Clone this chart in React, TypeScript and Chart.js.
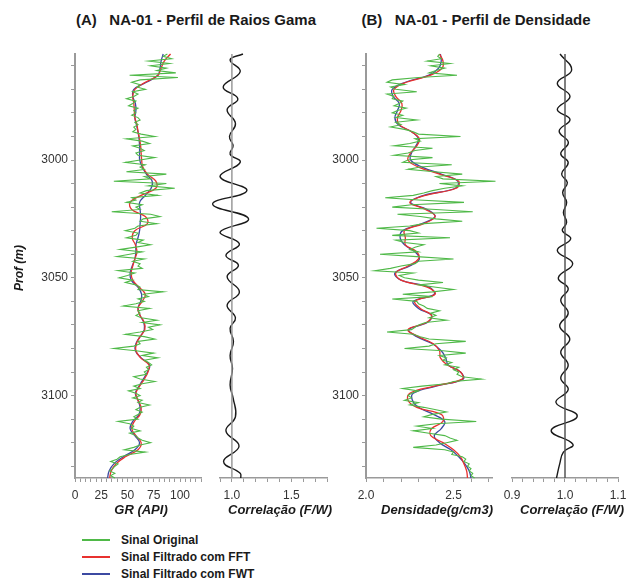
import React, { useEffect, useRef } from 'react';
import { Chart, registerables } from 'chart.js';

Chart.register(...registerables);

const FONT = '"Liberation Sans", Arial, Helvetica, sans-serif';

// ---------- depth index (m) ----------
const depthFine: number[] = Array.from({ length: 181 }, (_, i) => 2955 + i); // 1 m step
const depthSmooth: number[] = Array.from({ length: 61 }, (_, i) => 2955 + 3 * i); // 3 m step
const depthTicks: number[] = Array.from({ length: 18 }, (_, i) => 2960 + 10 * i);
const depthLabels: number[] = [3000, 3050, 3100];

// ---------- (A) Gamma Ray (API) ----------
const grOriginal: number[] = [
  88, 84, 92, 70, 90, 72, 87, 78, 96, 52,
  98, 62, 54, 62, 59, 67, 55, 60, 56, 49,
  58, 55, 51, 60, 56, 58, 54, 60, 62, 57,
  60, 56, 58, 55, 63, 76, 49, 64, 71, 55,
  62, 66, 58, 60, 76, 62, 48, 67, 62, 66,
  49, 87, 66, 72, 37, 87, 70, 95, 68, 62,
  79, 54, 58, 49, 64, 58, 62, 35, 72, 81,
  65, 62, 78, 60, 57, 48, 60, 58, 49, 65,
  60, 72, 58, 43, 64, 52, 40, 66, 55, 62,
  60, 64, 41, 57, 50, 42, 55, 48, 58, 62,
  60, 84, 65, 70, 60, 66, 58, 46, 71, 60,
  62, 58, 63, 78, 64, 81, 70, 74, 62, 48,
  66, 76, 60, 62, 56, 37, 58, 75, 64, 79,
  66, 70, 73, 68, 70, 66, 68, 56, 62, 76,
  64, 56, 62, 51, 58, 62, 55, 64, 60, 71,
  62, 58, 64, 60, 56, 60, 41, 52, 56, 54,
  62, 52, 58, 60, 64, 72, 62, 56, 47, 67,
  52, 43, 40, 34, 41, 38, 36, 33, 38, 34,
  38,
];
const grFFT: number[] = [
  91, 85, 82, 79, 67, 57, 55, 56, 56.5, 57,
  59, 60, 61.5, 62.5, 63, 63.5, 64.5, 69, 77, 77,
  63, 52.5, 54, 67, 69, 57, 54.5, 57.5, 59, 57,
  55, 53.5, 55, 61, 67, 64, 60, 62, 66, 66.5,
  62, 58.5, 58, 62.5, 70.5, 69.5, 66, 61.5, 58, 60,
  63, 62, 56.5, 54, 58, 63, 60, 48, 39, 34.5,
  33,
];
const grFWT: number[] = [
  84, 82, 81, 79, 68, 56, 55, 57.5, 58, 57,
  58.5, 60, 61, 61.5, 61.5, 61.6, 64, 68, 73.5, 72.5,
  67, 61.5, 62, 62.5, 62, 61.5, 60, 58, 58, 57,
  54.5, 52.5, 53.5, 60, 63.5, 62.5, 60, 62, 65.5, 66,
  62, 58, 57.5, 63, 71, 69, 65, 61, 57.5, 60,
  62, 61, 55, 52.5, 57, 61.5, 57, 46, 37, 32.5,
  31,
];
const corrGrDepth: number[] = [
  2955, 2957.5, 2962.5, 2969, 2974, 2978.6, 2984.5, 2990, 2994, 2997.5,
  3001, 3007, 3013, 3018.7, 3025, 3030.7, 3035.6, 3040.5, 3044.7, 3049.6,
  3056, 3061.6, 3067, 3071.5, 3077, 3083, 3088.5, 3095.5, 3101, 3109,
  3115, 3121.5, 3128, 3133, 3135,
];
const corrGr: number[] = [
  1.093, 0.985, 1.07, 0.927, 1.05, 0.96, 1.03, 0.98, 1.01, 0.985,
  1.07, 0.9, 1.126, 0.838, 1.14, 0.9, 1.063, 0.95, 1.055, 0.96,
  1.063, 0.96, 1.03, 0.985, 1.013, 0.985, 1.005, 0.985, 1.01, 1.03,
  0.95, 1.06, 0.93, 1.07, 1.075,
];

// ---------- (B) Density (g/cm3) ----------
const densOriginal: number[] = [
  2.42, 2.41, 2.43, 2.35, 2.48, 2.37, 2.45, 2.40, 2.36, 2.52,
  2.30, 2.15, 2.12, 2.22, 2.14, 2.17, 2.29, 2.12, 2.16, 2.15,
  2.21, 2.19, 2.16, 2.23, 2.18, 2.15, 2.21, 2.17, 2.29, 2.17,
  2.20, 2.14, 2.22, 2.27, 2.30, 2.54, 2.28, 2.31, 2.25, 2.16,
  2.38, 2.28, 2.24, 2.16, 2.38, 2.24, 2.21, 2.49, 2.31, 2.24,
  2.39, 2.55, 2.40, 2.44, 2.74, 2.42, 2.55, 2.45, 2.38, 2.33,
  2.27, 2.11, 2.30, 2.56, 2.26, 2.15, 2.40, 2.61, 2.18, 2.31,
  2.40, 2.55, 2.33, 2.25, 2.06, 2.25, 2.30, 2.15, 2.48, 2.17,
  2.22, 2.33, 2.28, 2.25, 2.30, 2.08, 2.29, 2.50, 2.30, 2.28,
  2.20, 2.14, 2.05, 2.27, 2.19, 2.22, 2.30, 2.44, 2.30, 2.40,
  2.50, 2.38, 2.21, 2.38, 2.15, 2.29, 2.30, 2.33, 2.35, 2.42,
  2.37, 2.40, 2.36, 2.46, 2.34, 2.30, 2.28, 2.26, 2.12, 2.27,
  2.31, 2.36, 2.57, 2.40, 2.36, 2.22, 2.44, 2.57, 2.42, 2.46,
  2.44, 2.49, 2.45, 2.53, 2.50, 2.53, 2.52, 2.55, 2.66, 2.50,
  2.46, 2.32, 2.21, 2.30, 2.26, 2.24, 2.26, 2.22, 2.30, 2.25,
  2.33, 2.40, 2.46, 2.38, 2.33, 2.43, 2.63, 2.40, 2.29, 2.38,
  2.27, 2.36, 2.45, 2.48, 2.52, 2.46, 2.40, 2.27, 2.45, 2.50,
  2.49, 2.55, 2.57, 2.56, 2.59, 2.58, 2.60, 2.59, 2.61, 2.60,
  2.62,
];
const densFFT: number[] = [
  2.42, 2.44, 2.435, 2.37, 2.23, 2.16, 2.17, 2.205, 2.2, 2.18,
  2.19, 2.26, 2.305, 2.29, 2.255, 2.24, 2.3, 2.42, 2.53, 2.515,
  2.34, 2.25, 2.34, 2.395, 2.33, 2.22, 2.225, 2.225, 2.29, 2.3,
  2.24, 2.17, 2.2, 2.35, 2.395, 2.28, 2.31, 2.375, 2.345, 2.24,
  2.3, 2.385, 2.42, 2.425, 2.465, 2.54, 2.55, 2.39, 2.25, 2.24,
  2.29, 2.43, 2.44, 2.375, 2.37, 2.44, 2.5, 2.54, 2.56, 2.575,
  2.58,
];
const densFWT: number[] = [
  2.425, 2.43, 2.415, 2.36, 2.225, 2.15, 2.155, 2.19, 2.18, 2.165,
  2.185, 2.26, 2.3, 2.285, 2.26, 2.255, 2.32, 2.43, 2.525, 2.51,
  2.33, 2.255, 2.35, 2.395, 2.32, 2.21, 2.195, 2.22, 2.28, 2.305,
  2.25, 2.165, 2.2, 2.36, 2.39, 2.27, 2.3, 2.375, 2.35, 2.245,
  2.29, 2.38, 2.43, 2.455, 2.47, 2.54, 2.555, 2.4, 2.27, 2.265,
  2.3, 2.385, 2.45, 2.43, 2.39, 2.42, 2.485, 2.53, 2.565, 2.59,
  2.6,
];
const corrDensDepth: number[] = [
  2955, 2961.8, 2967.4, 2973, 2978.6, 2982.8, 2987.7, 2992.6, 2997.3, 3001.1,
  3006, 3009.6, 3013.8, 3018, 3022.3, 3026.5, 3030, 3033.5, 3038.4, 3044,
  3050, 3054.6, 3059.5, 3065, 3070.5, 3076, 3081.5, 3087, 3092.6, 3097.5,
  3103, 3108.8, 3114.8, 3120.7, 3124, 3129, 3135,
];
const corrDens: number[] = [
  0.9906, 1.0126, 0.9855, 1.0094, 0.9855, 1.0094, 0.989, 1.0063, 0.992, 1.006,
  0.9937, 1.0044, 0.9956, 1.0031, 0.997, 1.003, 0.995, 1.0107, 0.9855, 1.0145,
  0.9874, 1.006, 0.992, 1.006, 0.99, 1.009, 0.992, 1.006, 0.992, 1.006,
  0.983, 1.023, 0.974, 1.015, 0.997, 0.99, 0.984,
];

// ---------- axis ticks ----------
const grTicks: number[] = Array.from({ length: 25 }, (_, i) => i * 5);
const grTickLabels: number[] = [0, 25, 50, 75, 100];
const corrGrTicks: number[] = Array.from({ length: 10 }, (_, i) => 0.9 + i * 0.1);
const corrGrTickLabels: number[] = [1.0, 1.5];
const densTicks: number[] = Array.from({ length: 8 }, (_, i) => 2.0 + i * 0.1);
const densTickLabels: number[] = [2.0, 2.5];
const corrDensTicks: number[] = Array.from({ length: 11 }, (_, i) => 0.9 + i * 0.02);
const corrDensTickLabels: number[] = [0.9, 1.0, 1.1];

const GREEN = '#4fb948';
const RED = '#e8312f';
const BLUE = '#3c4aa2';
const BLACK = '#1a1a1a';
const AXIS = '#9a9a9a';

const pts = (xs: number[], ys: number[]) => xs.map((x, i) => ({ x, y: ys[i] }));

type Spec = {
  left: number;
  width: number;
  padLeft: number;
  padRight: number;
  yWidth: number | null;
  xMin: number;
  xMax: number;
  xTicks: number[];
  xLabels: number[];
  decimals: number;
  datasets: any[];
};

const CANVAS_TOP = 40;
const CANVAS_H = 480;

function line(data: { x: number; y: number }[], color: string, width: number, tension: number) {
  return {
    type: 'scatter',
    data,
    showLine: true,
    borderColor: color,
    backgroundColor: color,
    borderWidth: width,
    pointRadius: 0,
    pointHoverRadius: 0,
    tension,
    clip: false,
  };
}

function vline(x: number, color: string) {
  return line([{ x, y: 2955 }, { x, y: 3135 }], color, 1.5, 0);
}

function Panel({ spec }: { spec: Spec }) {
  const ref = useRef<HTMLCanvasElement | null>(null);
  useEffect(() => {
    if (!ref.current) return;
    const tickFont = { family: FONT, size: 12 };
    const chart = new Chart(ref.current, {
      type: 'scatter',
      data: { datasets: spec.datasets },
      options: {
        animation: false,
        responsive: false,
        events: [],
        layout: { padding: { top: 14, left: spec.padLeft, right: spec.padRight, bottom: 0 } },
        plugins: { legend: { display: false }, tooltip: { enabled: false }, title: { display: false } },
        scales: {
          x: {
            type: 'linear',
            position: 'bottom',
            min: spec.xMin,
            max: spec.xMax,
            afterBuildTicks: (s: any) => {
              s.ticks = spec.xTicks.map((v) => ({ value: v }));
            },
            afterFit: (s: any) => {
              s.height = 42;
            },
            ticks: {
              autoSkip: false,
              maxRotation: 0,
              padding: 6,
              color: '#333',
              font: tickFont,
              callback: (v: any) => {
                const n = Number(v);
                const hit = spec.xLabels.find((l) => Math.abs(l - n) < 1e-6);
                return hit === undefined ? '' : hit.toFixed(spec.decimals);
              },
            },
            grid: { drawOnChartArea: false, drawTicks: true, tickLength: 4, color: AXIS, lineWidth: 1 },
            border: { display: true, color: AXIS, width: 1.5 },
          },
          y: {
            type: 'linear',
            reverse: true,
            min: 2955,
            max: 3135,
            display: spec.yWidth !== null,
            afterBuildTicks: (s: any) => {
              s.ticks = depthTicks.map((v) => ({ value: v }));
            },
            afterFit: (s: any) => {
              if (spec.yWidth !== null) s.width = spec.yWidth;
            },
            ticks: {
              autoSkip: false,
              padding: 3,
              color: '#333',
              font: tickFont,
              callback: (v: any) => (depthLabels.includes(Number(v)) ? String(v) : ''),
            },
            grid: { drawOnChartArea: false, drawTicks: true, tickLength: 4, color: AXIS, lineWidth: 1 },
            border: { display: true, color: AXIS, width: 2 },
          },
        },
      } as any,
    });
    return () => chart.destroy();
  }, [spec]);
  return (
    <canvas
      ref={ref}
      width={spec.width}
      height={CANVAS_H}
      style={{ position: 'absolute', left: spec.left, top: CANVAS_TOP, width: spec.width, height: CANVAS_H }}
    />
  );
}

const specs: Spec[] = [
  {
    left: 0,
    width: 215,
    padLeft: 0,
    padRight: 14,
    yWidth: 75,
    xMin: 0,
    xMax: 120,
    xTicks: grTicks,
    xLabels: grTickLabels,
    decimals: 0,
    datasets: [
      line(pts(grOriginal, depthFine), GREEN, 1.1, 0),
      line(pts(grFFT, depthSmooth), RED, 1.3, 0.4),
      line(pts(grFWT, depthSmooth), BLUE, 1.3, 0.4),
    ],
  },
  {
    left: 200,
    width: 140,
    padLeft: 20,
    padRight: 13,
    yWidth: null,
    xMin: 0.9,
    xMax: 1.8,
    xTicks: corrGrTicks,
    xLabels: corrGrTickLabels,
    decimals: 1,
    datasets: [vline(1.0, '#9a9a9a'), line(pts(corrGr, corrGrDepth), BLACK, 1.4, 0.45)],
  },
  {
    left: 290,
    width: 215,
    padLeft: 0,
    padRight: 13,
    yWidth: 76,
    xMin: 2.0,
    xMax: 2.72,
    xTicks: densTicks,
    xLabels: densTickLabels,
    decimals: 1,
    datasets: [
      line(pts(densOriginal, depthFine), GREEN, 1.1, 0),
      line(pts(densFFT, depthSmooth), RED, 1.3, 0.4),
      line(pts(densFWT, depthSmooth), BLUE, 1.3, 0.4),
    ],
  },
  {
    left: 495,
    width: 140,
    padLeft: 17,
    padRight: 17,
    yWidth: null,
    xMin: 0.9,
    xMax: 1.1,
    xTicks: corrDensTicks,
    xLabels: corrDensTickLabels,
    decimals: 1,
    datasets: [vline(1.0, '#555555'), line(pts(corrDens, corrDensDepth), BLACK, 1.4, 0.45)],
  },
];

const textBase: React.CSSProperties = {
  position: 'absolute',
  fontFamily: FONT,
  color: '#1a1a1a',
  whiteSpace: 'pre',
  lineHeight: 1,
  transform: 'translate(-50%, -50%)',
};

function Label({ x, y, text, size, italic }: { x: number; y: number; text: string; size: number; italic?: boolean }) {
  return (
    <div style={{ ...textBase, left: x, top: y, fontSize: size, fontWeight: 'bold', fontStyle: italic ? 'italic' : 'normal' }}>
      {text}
    </div>
  );
}

const legendItems = [
  { label: 'Sinal Original', color: GREEN },
  { label: 'Sinal Filtrado com FFT', color: RED },
  { label: 'Sinal Filtrado com FWT', color: BLUE },
];

export default function App() {
  return (
    <div style={{ position: 'absolute', left: 0, top: 0, width: 635, height: 579, background: '#fff', overflow: 'hidden' }}>
      <Label x={196} y={19} text={'(A)   NA-01 - Perfil de Raios Gama'} size={15} />
      <Label x={476} y={19} text={'(B)   NA-01 - Perfil de Densidade'} size={15} />
      {specs.map((s, i) => (
        <Panel key={i} spec={s} />
      ))}
      <Label x={141} y={509} text={'GR (API)'} size={13} italic />
      <Label x={280} y={509} text={'Correlação (F/W)'} size={13} italic />
      <Label x={437} y={509} text={'Densidade(g/cm3)'} size={13} italic />
      <Label x={572} y={509} text={'Correlação (F/W)'} size={13} italic />
      <div
        style={{
          ...textBase,
          left: 19,
          top: 268,
          fontSize: 12,
          fontWeight: 'bold',
          fontStyle: 'italic',
          transform: 'translate(-50%, -50%) rotate(-90deg)',
        }}
      >
        {'Prof (m)'}
      </div>
      {legendItems.map((it, i) => (
        <div key={it.label}>
          <div
            style={{ position: 'absolute', left: 82, top: 539 + i * 17, width: 28, height: 2, background: it.color }}
          />
          <div
            style={{
              position: 'absolute',
              left: 121,
              top: 540 + i * 17,
              transform: 'translateY(-50%)',
              fontFamily: FONT,
              fontSize: 12,
              fontWeight: 'bold',
              color: '#1a1a1a',
              lineHeight: 1,
              whiteSpace: 'pre',
            }}
          >
            {it.label}
          </div>
        </div>
      ))}
    </div>
  );
}
